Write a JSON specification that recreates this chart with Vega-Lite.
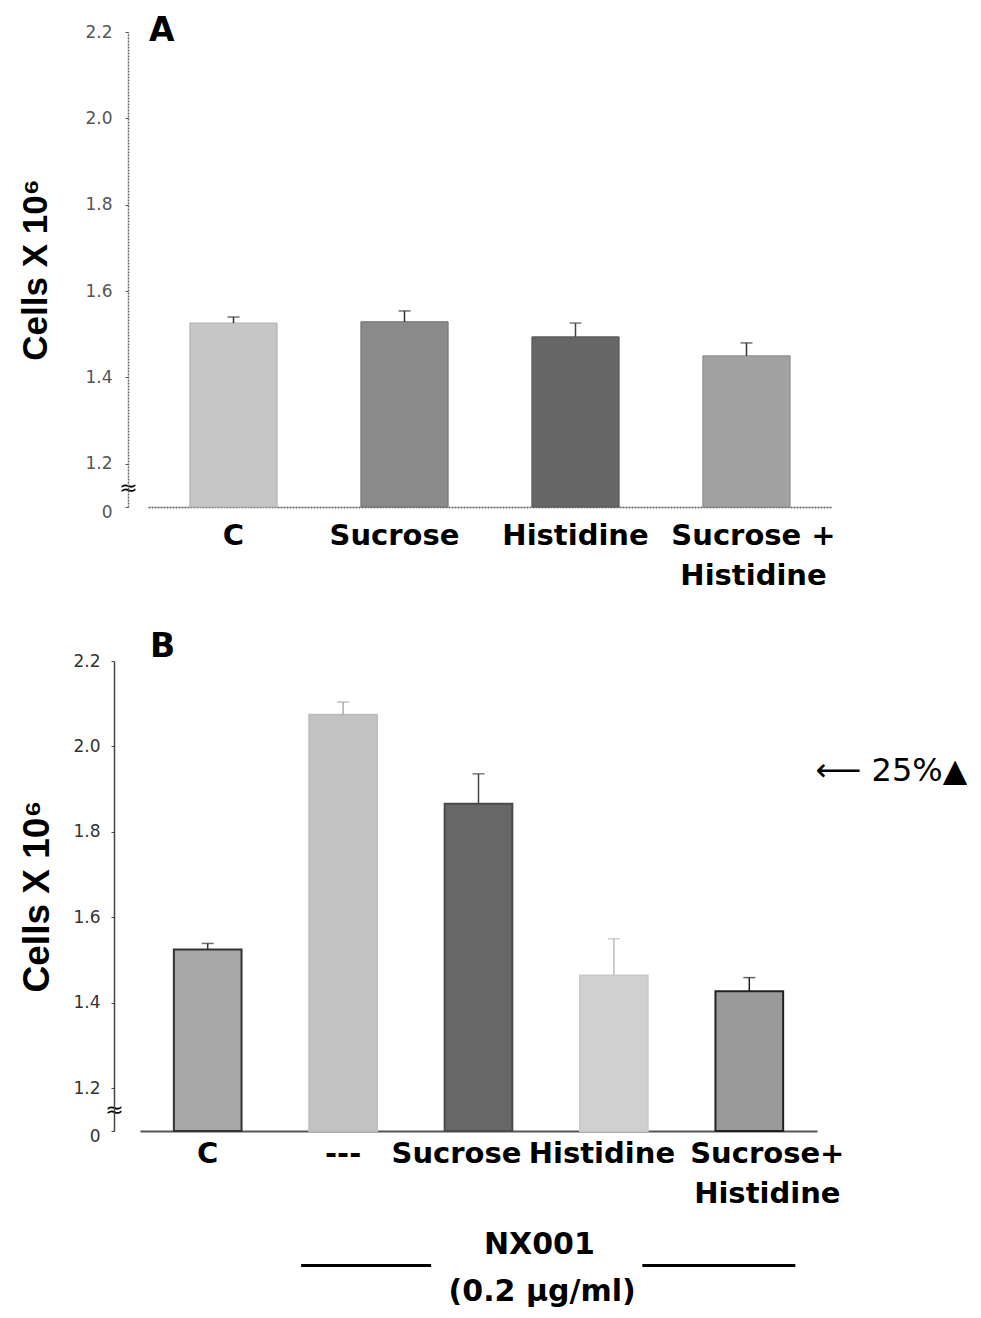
{
  "$schema": "https://vega.github.io/schema/vega-lite/v6.json",
  "background": "white",
  "padding": {"left": 18, "top": 15, "right": 0, "bottom": 0},
  "config": {"view": {"stroke": null}, "font": "DejaVu Sans", "axis": {"grid": false}},
  "datasets": {
    "panelA": [
      {"cond": "C", "mean": 1.526, "upper": 1.540},
      {"cond": "Sucrose", "mean": 1.529, "upper": 1.554},
      {"cond": "Histidine", "mean": 1.494, "upper": 1.526},
      {"cond": "Sucrose +|Histidine", "mean": 1.450, "upper": 1.480}
    ],
    "panelB": [
      {"cond": "C", "mean": 1.525, "upper": 1.539},
      {"cond": "---", "mean": 2.074, "upper": 2.104},
      {"cond": "Sucrose", "mean": 1.866, "upper": 1.936},
      {"cond": "Histidine", "mean": 1.464, "upper": 1.550},
      {"cond": "Sucrose+|Histidine", "mean": 1.427, "upper": 1.459}
    ]
  },
  "spacing": 41,
  "resolve": {"scale": {"x": "independent", "y": "independent", "fill": "independent", "stroke": "independent", "color": "independent"}},
  "vconcat": [
    {
      "width": 684,
      "height": 475,
      "title": {"text": "A", "anchor": "start", "frame": "group", "fontSize": 33, "fontWeight": "bold", "font": "DejaVu Sans", "offset": -25, "dx": 1},
      "data": {"name": "panelA"},
      "encoding": {
        "x": {
          "field": "cond", "type": "nominal", "sort": null,
          "scale": {"paddingInner": 0.49, "paddingOuter": 0.245},
          "axis": {"title": null, "labelAngle": 0, "labelFontSize": 29, "labelFontWeight": "bold", "labelColor": "black", "labelPadding": 14, "ticks": false, "domainColor": "#555", "domainDash": [2, 1], "domainWidth": 1.5, "labelExpr": "split(datum.label, '|')", "labelLineHeight": 40,
            "labelOffset": {"condition": [{"test": "datum.value == 'Sucrose'", "value": -10}, {"test": "datum.value == 'Sucrose +|Histidine'", "value": 7}], "value": 0}}
        }
      },
      "layer": [
        {
          "mark": {"type": "bar", "strokeWidth": 1},
          "encoding": {
            "y": {
              "field": "mean", "type": "quantitative",
              "scale": {"domain": [1.1, 2.2], "zero": false, "nice": false},
              "axis": {
                "values": [1.1, 1.145, 1.2, 1.4, 1.6, 1.8, 2.0, 2.2],
                "labelExpr": "datum.value < 1.12 ? '0' : (datum.value < 1.18 ? '≈' : format(datum.value, '.1f'))",
                "offset": 20,
                "title": "Cells X 10⁶", "titleFont": "Liberation Sans", "titleFontSize": 35, "titleFontWeight": "bold", "titleColor": "black", "titlePadding": 31,
                "labelFontSize": {"condition": {"test": "datum.value > 1.12 && datum.value < 1.18", "value": 22}, "value": 17},
                "labelColor": {"condition": {"test": "datum.value > 1.12 && datum.value < 1.18", "value": "black"}, "value": "#555"},
                "labelAlign": {"condition": {"test": "datum.value > 1.12 && datum.value < 1.18", "value": "center"}, "value": "right"},
                "labelPadding": {"condition": {"test": "datum.value > 1.12 && datum.value < 1.18", "value": -3}, "value": 13},
                "labelOffset": {"condition": {"test": "datum.value < 1.12", "value": 5}, "value": 0},
                "tickOpacity": {"condition": {"test": "datum.value > 1.12 && datum.value < 1.18", "value": 0}, "value": 1},
                "tickSize": 3, "tickColor": "#555", "domainColor": "#666", "domainDash": [2, 1], "domainWidth": 1.5,
                "labelOverlap": false, "labelFlush": false
              }
            },
            "y2": {"datum": 1.1},
            "fill": {"field": "cond", "type": "nominal", "sort": null, "legend": null, "scale": {"range": ["#c6c6c6", "#8a8a8a", "#666666", "#a2a2a2"]}},
            "stroke": {"field": "cond", "type": "nominal", "sort": null, "legend": null, "scale": {"range": ["#b0b0b0", "#707070", "#555555", "#888888"]}}
          }
        },
        {
          "mark": {"type": "rule", "strokeWidth": 1.5},
          "encoding": {
            "y": {"field": "mean", "type": "quantitative", "scale": {"domain": [1.1, 2.2], "zero": false, "nice": false}, "axis": null},
            "y2": {"field": "upper"},
            "color": {"field": "cond", "type": "nominal", "sort": null, "legend": null, "scale": {"range": ["#333333", "#333333", "#444444", "#333333"]}}
          }
        },
        {
          "mark": {"type": "tick", "thickness": 1.5, "size": 12},
          "encoding": {
            "y": {"field": "upper", "type": "quantitative", "scale": {"domain": [1.1, 2.2], "zero": false, "nice": false}, "axis": null},
            "color": {"field": "cond", "type": "nominal", "sort": null, "legend": null}
          }
        }
      ],
      "resolve": {"axis": {"y": "independent"}}
    },
    {
      "width": 669,
      "height": 470,
      "title": {"text": "B", "anchor": "start", "frame": "group", "fontSize": 33, "fontWeight": "bold", "font": "DejaVu Sans", "offset": -12, "dx": 2},
      "layer": [
        {
          "data": {"name": "panelB"},
          "encoding": {
            "x": {
              "field": "cond", "type": "nominal", "sort": null,
              "scale": {"paddingInner": 0.5, "paddingOuter": 0.25, "range": [-8, 669]},
              "axis": {"title": null, "labelAngle": 0, "labelFontSize": 29, "labelFontWeight": "bold", "labelColor": "black", "labelPadding": 8, "ticks": false, "domainColor": "#555", "domainWidth": 2, "labelExpr": "split(datum.label, '|')", "labelLineHeight": 40,
                "labelOffset": {"condition": [{"test": "datum.value == 'Sucrose'", "value": -22}, {"test": "datum.value == 'Histidine'", "value": -12}, {"test": "datum.value == 'Sucrose+|Histidine'", "value": 18}], "value": 0}}
            }
          },
          "layer": [
            {
              "mark": {"type": "bar", "strokeWidth": 2},
              "encoding": {
                "y": {
                  "field": "mean", "type": "quantitative",
                  "scale": {"domain": [1.1, 2.2], "zero": false, "nice": false},
                  "axis": {
                    "values": [1.1, 1.15, 1.2, 1.4, 1.6, 1.8, 2.0, 2.2],
                    "labelExpr": "datum.value < 1.12 ? '0' : (datum.value < 1.18 ? '≈' : format(datum.value, '.1f'))",
                    "offset": 34,
                    "title": "Cells X 10⁶", "titleFont": "Liberation Sans", "titleFontSize": 37, "titleFontWeight": "bold", "titleColor": "black", "titlePadding": 16,
                    "labelFontSize": {"condition": {"test": "datum.value > 1.12 && datum.value < 1.18", "value": 22}, "value": 17},
                    "labelColor": {"condition": {"test": "datum.value > 1.12 && datum.value < 1.18", "value": "black"}, "value": "#333"},
                    "labelAlign": {"condition": {"test": "datum.value > 1.12 && datum.value < 1.18", "value": "center"}, "value": "right"},
                    "labelPadding": {"condition": {"test": "datum.value > 1.12 && datum.value < 1.18", "value": -3}, "value": 11},
                    "labelOffset": {"condition": {"test": "datum.value < 1.12", "value": 5}, "value": 0},
                    "tickOpacity": {"condition": {"test": "datum.value > 1.12 && datum.value < 1.18", "value": 0}, "value": 1},
                    "tickSize": 3, "tickColor": "#444", "domainColor": "#444", "domainWidth": 1.5,
                    "labelOverlap": false, "labelFlush": false
                  }
                },
                "y2": {"datum": 1.1},
                "fill": {"field": "cond", "type": "nominal", "sort": null, "legend": null, "scale": {"range": ["#a8a8a8", "#c2c2c2", "#676767", "#d0d0d0", "#9a9a9a"]}},
                "stroke": {"field": "cond", "type": "nominal", "sort": null, "legend": null, "scale": {"range": ["#333333", "#bdbdbd", "#4a4a4a", "#cacaca", "#222222"]}}
              }
            },
            {
              "mark": {"type": "rule", "strokeWidth": 1.5},
              "encoding": {
                "y": {
                  "field": "mean", "type": "quantitative",
                  "scale": {"domain": [1.1, 2.2], "zero": false, "nice": false},
                  "axis": {"orient": "right", "values": [1.943], "labelExpr": "'⟵ 25%▲'", "title": null, "domain": false, "ticks": false, "tickSize": 0, "labelPadding": -2, "labelFontSize": 32, "labelColor": "black", "labelOverlap": false, "labelFlush": false}
                },
                "y2": {"field": "upper"},
                "color": {"field": "cond", "type": "nominal", "sort": null, "legend": null, "scale": {"range": ["#333333", "#aaaaaa", "#444444", "#bbbbbb", "#222222"]}}
              }
            },
            {
              "mark": {"type": "tick", "thickness": 1.5, "size": 12},
              "encoding": {
                "y": {"field": "upper", "type": "quantitative", "scale": {"domain": [1.1, 2.2], "zero": false, "nice": false}, "axis": null},
                "color": {"field": "cond", "type": "nominal", "sort": null, "legend": null}
              }
            }
          ],
          "resolve": {"axis": {"y": "independent"}}
        },
        {
          "data": {"values": [{"note": "NX001 (0.2 µg/ml)"}]},
          "layer": [
            {
              "mark": {"type": "rule", "strokeWidth": 3, "color": "black"},
              "encoding": {
                "x": {"datum": 1.19, "type": "quantitative", "scale": {"domain": [0, 5], "range": [-8, 669], "nice": false, "zero": false}, "axis": null},
                "x2": {"datum": 2.15},
                "y": {"datum": 0.785, "type": "quantitative", "scale": {"domain": [1.1, 2.2], "zero": false, "nice": false}, "axis": null}
              }
            },
            {
              "mark": {"type": "rule", "strokeWidth": 3, "color": "black"},
              "encoding": {
                "x": {"datum": 3.71, "type": "quantitative", "scale": {"domain": [0, 5], "range": [-8, 669], "nice": false, "zero": false}, "axis": null},
                "x2": {"datum": 4.84},
                "y": {"datum": 0.785, "type": "quantitative", "scale": {"domain": [1.1, 2.2], "zero": false, "nice": false}, "axis": null}
              }
            },
            {
              "mark": {"type": "text", "fontSize": 30, "fontWeight": "bold", "color": "black", "baseline": "middle", "align": "center"},
              "encoding": {
                "x": {"datum": 2.95, "type": "quantitative", "scale": {"domain": [0, 5], "range": [-8, 669], "nice": false, "zero": false}, "axis": null},
                "y": {"datum": 0.834, "type": "quantitative", "scale": {"domain": [1.1, 2.2], "zero": false, "nice": false}, "axis": null},
                "text": {"value": "NX001"}
              }
            },
            {
              "mark": {"type": "text", "fontSize": 30, "fontWeight": "bold", "color": "black", "baseline": "middle", "align": "center"},
              "encoding": {
                "x": {"datum": 2.97, "type": "quantitative", "scale": {"domain": [0, 5], "range": [-8, 669], "nice": false, "zero": false}, "axis": null},
                "y": {"datum": 0.724, "type": "quantitative", "scale": {"domain": [1.1, 2.2], "zero": false, "nice": false}, "axis": null},
                "text": {"value": "(0.2 µg/ml)"}
              }
            }
          ]
        }
      ],
      "resolve": {"scale": {"x": "independent"}, "axis": {"x": "independent", "y": "independent"}}
    }
  ]
}
